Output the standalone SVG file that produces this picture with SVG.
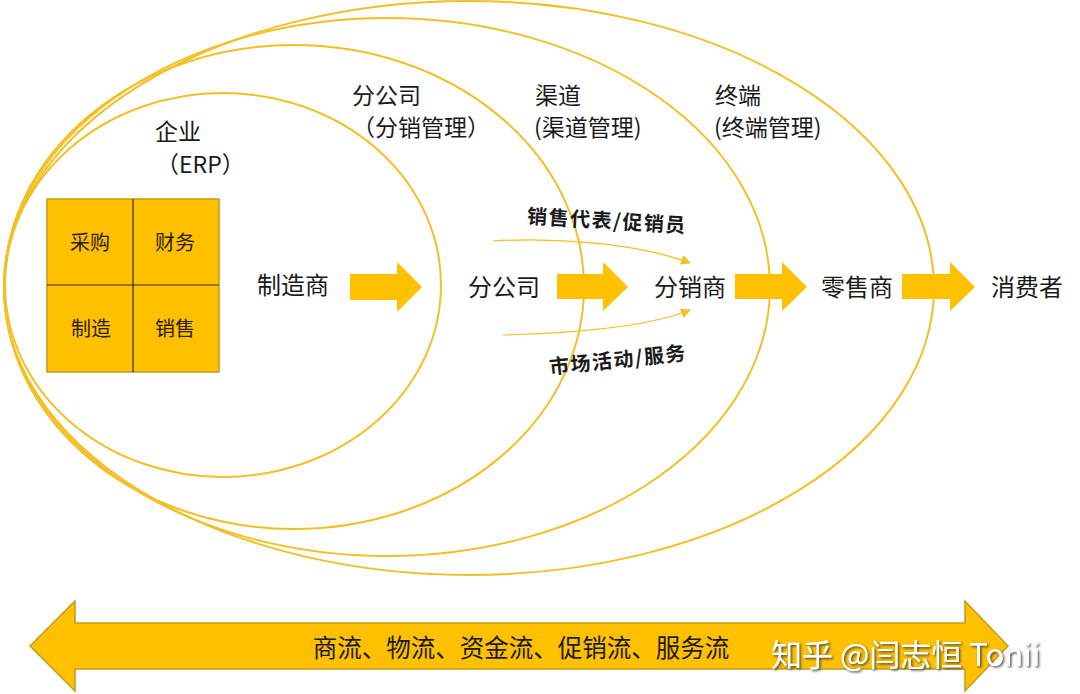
<svg xmlns="http://www.w3.org/2000/svg" width="1080" height="694" viewBox="0 0 1080 694">
<style>
.ring{fill:none;stroke:#F2BF25;stroke-width:2}
.blk{fill:#FFC000}
.lbl{font-family:"Noto Sans CJK SC","Noto Sans",sans-serif;fill:#1a1a1a}
.big{font-size:24px;text-anchor:middle}
.top{font-size:23px}
.cell{font-size:20px;text-anchor:middle;fill:#2a2000}
.thin{fill:none;stroke:#F2BF25;stroke-width:1.2}
.note{font-size:20px;font-weight:700;text-anchor:middle;letter-spacing:1.5px}
</style>
<defs>
<marker id="ah" markerWidth="10" markerHeight="10" refX="9" refY="5" orient="auto" markerUnits="userSpaceOnUse">
<path d="M0,0 L10,5 L0,10 Z" fill="#F2BF25"/>
</marker>
<filter id="sh" x="-10%" y="-30%" width="120%" height="160%">
<feDropShadow dx="1.5" dy="1.5" stdDeviation="0.8" flood-color="#3a3a3a" flood-opacity="0.9"/>
</filter>
</defs>
<rect width="1080" height="694" fill="#ffffff"/>
<g id="rings">
<ellipse id="ring-terminal" class="ring" cx="469" cy="288" rx="465" ry="287"/>
<ellipse id="ring-channel" class="ring" cx="387" cy="287" rx="383" ry="269"/>
<ellipse id="ring-branch" class="ring" cx="294" cy="287" rx="290" ry="242"/>
<ellipse id="ring-enterprise" class="ring" cx="223" cy="285" rx="218" ry="192"/>
</g>
<g id="ring-labels" class="lbl top">
<text x="155" y="140">企业</text>
<text x="156" y="173">（ERP）</text>
<text x="352" y="104">分公司</text>
<text x="352" y="136">（分销管理）</text>
<text x="535" y="104">渠道</text>
<text x="534" y="136">(渠道管理)</text>
<text x="715" y="104">终端</text>
<text x="714" y="136">(终端管理)</text>
</g>
<g id="erp-grid">
<rect x="47" y="199" width="172" height="173" fill="#FFC000" stroke="#C49A1C" stroke-width="1.5"/>
<line x1="133" y1="199" x2="133" y2="372" stroke="#3a2800" stroke-width="1.2"/>
<line x1="47" y1="285" x2="219" y2="285" stroke="#3a2800" stroke-width="1.2"/>
<text class="lbl cell" x="90" y="250">采购</text>
<text class="lbl cell" x="175" y="250">财务</text>
<text class="lbl cell" x="91" y="336">制造</text>
<text class="lbl cell" x="175" y="336">销售</text>
</g>
<g id="connectors">
<path class="blk" d="M350,274 H397 V262 L422,287 L397,312 V300 H350 Z"/>
<path class="blk" d="M557,274 H603 V262 L628,287 L603,311 V299 H557 Z"/>
<path class="blk" d="M735,274 H782 V262 L807,287 L782,311 V299 H735 Z"/>
<path class="blk" d="M902,274 H950 V262 L975,287 L950,311 V299 H902 Z"/>
<path class="thin" d="M493,241 C560,237 640,244 690,263" marker-end="url(#ah)"/>
<path class="thin" d="M503,335 C580,333 650,326 690,310" marker-end="url(#ah)"/>
</g>
<g id="node-manufacturer"><text class="lbl big" x="293" y="294">制造商</text></g>
<g id="node-branch"><text class="lbl big" x="504" y="296">分公司</text></g>
<g id="node-distributor"><text class="lbl big" x="690" y="296">分销商</text></g>
<g id="node-retailer"><text class="lbl big" x="857" y="296">零售商</text></g>
<g id="node-consumer"><text class="lbl big" x="1027" y="296">消费者</text></g>
<g id="notes">
<text class="lbl note" x="607" y="228" transform="rotate(3.4 607 221)">销售代表/促销员</text>
<text class="lbl note" x="618" y="367" transform="rotate(-6 618 360)">市场活动/服务</text>
</g>
<g id="flow-arrow">
<path d="M30,646 L75,601 V623 H965 V601 L1008,646 L965,691 V669 H75 V691 Z" fill="#FFC000" stroke="#C49A1C" stroke-width="1.5"/>
<text class="lbl" x="521" y="657" font-size="24.5" text-anchor="middle" fill="#2a1f00">商流、物流、资金流、促销流、服务流</text>
<text x="771" y="666" font-family="'Noto Sans CJK SC','Noto Sans',sans-serif" font-size="31" fill="#ffffff" filter="url(#sh)">知乎 @闫志恒 Tonii</text>
</g>
</svg>
